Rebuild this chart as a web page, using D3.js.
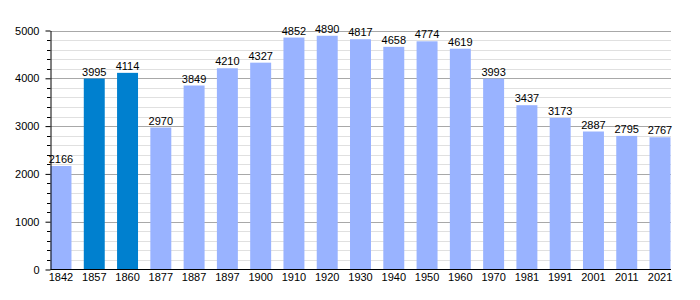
<!DOCTYPE html>
<html><head><meta charset="utf-8">
<script src="https://cdn.jsdelivr.net/npm/d3@7"></script>
<style>body{margin:0;background:#fff}svg{display:block}text{font-family:"Liberation Sans",Arial,sans-serif;font-size:11px;fill:#000}</style>
</head><body><svg id="c" width="700" height="300"></svg>
<script>
const years = ["1842","1857","1860","1877","1887","1897","1900","1910","1920","1930","1940","1950","1960","1970","1981","1991","2001","2011","2021"];
const population = [2166,3995,4114,2970,3849,4210,4327,4852,4890,4817,4658,4774,4619,3993,3437,3173,2887,2795,2767];
const highlighted = ["1857","1860"];
const yTicks = [0,1000,2000,3000,4000,5000];

const svg = d3.select("#c");
const x = d3.scaleBand().domain(years).range([50.5,670.5]).paddingInner(0.37).paddingOuter(0);
const y = d3.scaleLinear().domain([0,5000]).range([269.5,30.5]);

const minor = d3.range(0,5001,200).filter(v=>v%1000!==0);
svg.append("g").selectAll("line").data(minor).join("line")
  .attr("x1",50.5).attr("x2",671).attr("y1",d=>Math.round(y(d))+0.5).attr("y2",d=>Math.round(y(d))+0.5)
  .attr("stroke","#e0e0e0").attr("stroke-width",1);
svg.append("g").selectAll("line").data(yTicks.filter(v=>v>0)).join("line")
  .attr("x1",50.5).attr("x2",671).attr("y1",d=>Math.round(y(d))+0.5).attr("y2",d=>Math.round(y(d))+0.5)
  .attr("stroke","#a8a8a8").attr("stroke-width",1);

svg.append("g").selectAll("rect").data(years).join("rect")
  .attr("x",d=>x(d)).attr("width",x.bandwidth())
  .attr("y",(d,i)=>y(population[i])).attr("height",(d,i)=>y(0)-y(population[i]))
  .attr("fill",d=>highlighted.includes(d)?"#0080cf":"#99b3ff");

svg.append("g").selectAll("text").data(years).join("text")
  .attr("x",d=>x(d)+x.bandwidth()/2).attr("y",(d,i)=>y(population[i])-3)
  .attr("text-anchor","middle").text((d,i)=>population[i]);

// y axis minor ticks
svg.append("g").selectAll("line").data(minor).join("line")
  .attr("x1",47).attr("x2",50.5).attr("y1",d=>Math.round(y(d))+0.5).attr("y2",d=>Math.round(y(d))+0.5)
  .attr("stroke","#000");
const yAxis = d3.axisLeft(y).tickValues(yTicks).tickSize(5).tickSizeOuter(0).tickPadding(6).tickFormat(d3.format("d"));
const gy = svg.append("g").attr("transform","translate(50.5,0)").call(yAxis);
gy.select(".domain").attr("stroke","#000");
gy.selectAll("text").style("font-family","Liberation Sans, Arial, sans-serif").style("font-size","11px");

const xAxis = d3.axisBottom(x).tickSize(0).tickSizeOuter(0).tickPadding(4);
const gx = svg.append("g").attr("transform","translate(0,269.5)").call(xAxis);
gx.select(".domain").attr("d","M50.5,0H671").attr("stroke","#000");
gx.selectAll("text").style("font-family","Liberation Sans, Arial, sans-serif").style("font-size","11px");
</script></body></html>
